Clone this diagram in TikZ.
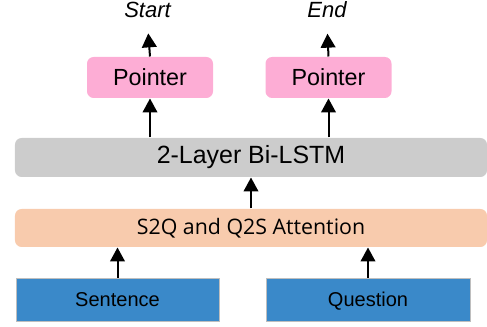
\documentclass[tikz,border=0pt]{standalone}
\usepackage{fontspec}
\setmainfont{Liberation Sans}
\newfontfamily\attfont{Open Sans}
\usetikzlibrary{arrows.meta}

\definecolor{ptrpink}{RGB}{253,173,213}
\definecolor{lstmgray}{RGB}{204,204,204}
\definecolor{attpeach}{RGB}{248,203,173}
\definecolor{inblue}{RGB}{58,137,201}
\definecolor{inedge}{RGB}{190,190,190}

\tikzset{every picture/.style={line width=0.75pt}}
\tikzset{
  arr/.style={line width=1.5pt,-{Triangle[length=10.5pt,width=11pt]}},
  ptrbox/.style={fill=ptrpink,rounded corners=5pt,minimum width=126*0.75pt,minimum height=41*0.75pt,font=\fontsize{17.5}{20}\selectfont},
  layerbox/.style={rounded corners=5pt,minimum width=472*0.75pt},
  inbox/.style={fill=inblue,draw=inedge,line width=0.6pt,minimum height=43*0.75pt,text height=12pt,text depth=2pt,font=\fontsize{15}{18}\selectfont},
  outtext/.style={font=\fontsize{16.5}{19}\selectfont\itshape}
}

\begin{document}
\begin{tikzpicture}[x=0.75pt,y=0.75pt,yscale=-1,xscale=1]
	\useasboundingbox (0,0) rectangle (487,327);

	% Text Node
	\node[outtext] (start) at (147.5,10) {Start};
	% Text Node
	\node[outtext] (end) at (327,10) {End};
	%Shape: Rounded Rect
	\node[ptrbox] (ptrL) at (150,77.5) {Pointer};
	%Shape: Rounded Rect
	\node[ptrbox] (ptrR) at (328.5,77.5) {Pointer};
	%Shape: Rounded Rect
	\node[layerbox,fill=lstmgray,minimum height=39*0.75pt,font=\fontsize{18.7}{22}\selectfont] (lstm) at (251,157.5) {2-Layer Bi-LSTM};
	%Shape: Rounded Rect
	\node[layerbox,fill=attpeach,minimum height=38*0.75pt,font=\attfont\fontsize{16}{19}\selectfont] (att) at (251,228) {S2Q and Q2S Attention};
	%Shape: Rectangle
	\node[inbox,minimum width=203*0.75pt] (sent) at (117.5,299.5) {Sentence};
	%Shape: Rectangle
	\node[inbox,minimum width=204*0.75pt] (ques) at (368,299.5) {Question};

	%Straight Lines
	\draw[arr] (ptrL.north) -- (start.south) [shorten >=8pt];
	\draw[arr] (ptrR.north) -- (end.south) [shorten >=8pt];
	\draw[arr] (lstm.north -| ptrL) -- (ptrL.south);
	\draw[arr] (lstm.north -| ptrR) -- (ptrR.south);
	\draw[arr] (att.north) -- (lstm.south);
	\draw[arr] (sent.north) -- (sent.north |- att.south);
	\draw[arr] (ques.north) -- (ques.north |- att.south);

\end{tikzpicture}
\end{document}
